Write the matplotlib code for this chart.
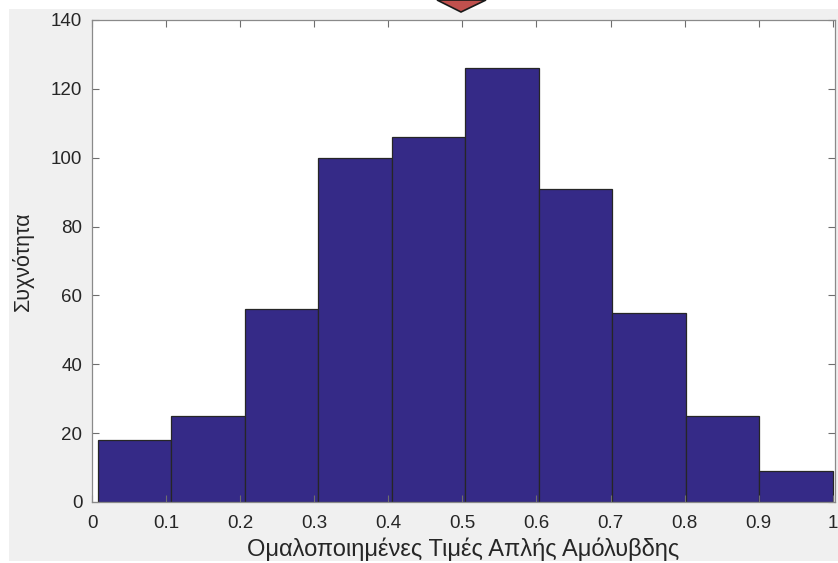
import numpy as np
import matplotlib.pyplot as plt
from matplotlib.patches import Rectangle, Polygon

bin_edges = np.linspace(0.008, 1.0, 11)
counts = [18, 25, 56, 100, 106, 126, 91, 55, 25, 9]
xticks = [0, 0.1, 0.2, 0.3, 0.4, 0.5, 0.6, 0.7, 0.8, 0.9, 1]
xticklabels = ['0', '0.1', '0.2', '0.3', '0.4', '0.5', '0.6', '0.7', '0.8', '0.9', '1']
yticks = [0, 20, 40, 60, 80, 100, 120, 140]

W, H = 838, 563
plt.rcParams['font.family'] = ['Liberation Sans', 'DejaVu Sans']
fig = plt.figure(figsize=(W / 100, H / 100), dpi=100, facecolor='white')

# grey window background
fig.patches.append(Rectangle((9 / W, 2 / H), 1 - 9 / W, (H - 11) / H,
                             transform=fig.transFigure, facecolor='#f0f0f0',
                             edgecolor='none', zorder=-10))

ax = fig.add_axes([92 / W, 1 - 502 / H, (835 - 92) / W, (502 - 20) / H])
ax.hist(bin_edges[:-1], bins=bin_edges, weights=counts,
        color='#352a87', edgecolor='#262626', linewidth=0.9)

ax.set_xlim(0, 1.003)
ax.set_ylim(0, 140)
ax.set_xticks(xticks)
ax.set_xticklabels(xticklabels)
ax.set_yticks(yticks)
ax.tick_params(direction='in', top=True, right=True, length=5, width=0.8,
               color='#6e6e6e', labelcolor='#262626', labelsize=13.5)
ax.tick_params(axis='x', pad=9)
ax.tick_params(axis='y', pad=7)
for s in ax.spines.values():
    s.set_color('#8a8a8a')
    s.set_linewidth(0.9)

ax.set_xlabel('Ομαλοποιημένες Τιμές Απλής Αμόλυβδης', fontsize=17,
              color='#262626', labelpad=4)
ax.set_ylabel('Συχνότητα', fontsize=15.5, color='#262626', labelpad=12)

# red arrow tip at the top
tri = Polygon([(437 / W, 1.0), (486 / W, 1.0), (461 / W, 1 - 12 / H)],
              closed=True, transform=fig.transFigure, facecolor='#c0504d',
              edgecolor='#1a1a1a', linewidth=1.2, zorder=20)
fig.patches.append(tri)

fig.savefig('out.png', dpi=100, facecolor=fig.get_facecolor())
